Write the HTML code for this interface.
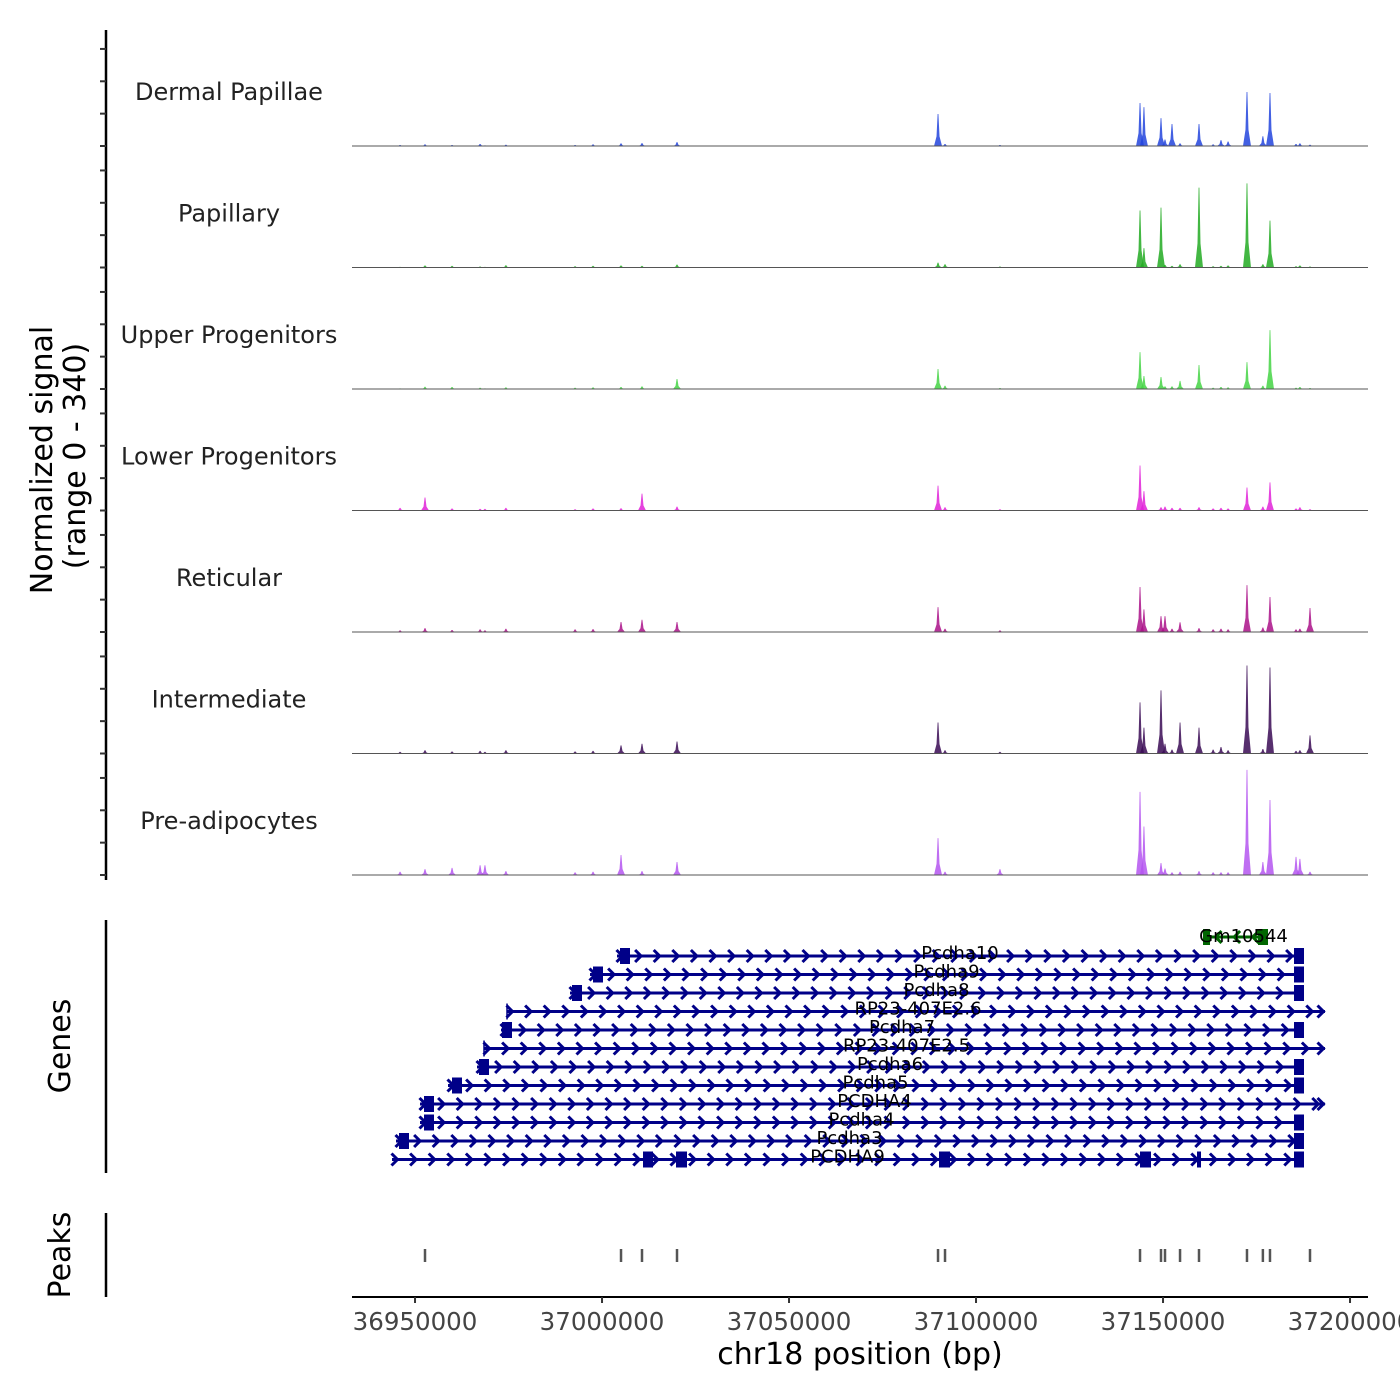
<!DOCTYPE html>
<html><head><meta charset="utf-8"><style>
html,body{margin:0;padding:0;background:#fff;}
svg{display:block;font-family:"DejaVu Sans","Liberation Sans",sans-serif;}
</style></head><body>
<svg id="chart" width="1400" height="1400" viewBox="0 0 1400 1400" xmlns="http://www.w3.org/2000/svg">
<g id="left-axis"></g>
<g id="tracks"></g>
<g id="genes"></g>
<g id="peaks"></g>
<g id="xaxis"></g>
<text transform="translate(52,460) rotate(-90)" text-anchor="middle" font-size="30" fill="#000">Normalized signal</text>
<text transform="translate(85,456) rotate(-90)" text-anchor="middle" font-size="30" fill="#000">(range 0 - 340)</text>
<text transform="translate(70,1046) rotate(-90)" text-anchor="middle" font-size="30" fill="#000">Genes</text>
<text transform="translate(70,1255) rotate(-90)" text-anchor="middle" font-size="30" fill="#000">Peaks</text>
<text x="860" y="1364" text-anchor="middle" font-size="30" fill="#000">chr18 position (bp)</text>
</svg>
<script>
const trackNames = ["Dermal Papillae","Papillary","Upper Progenitors","Lower Progenitors","Reticular","Intermediate","Pre-adipocytes"];
const trackColors = ["#2244dd","#22aa22","#44d444","#e022d8","#aa1188","#3a0a55","#b455f0"];
const peakPositions = [36946000,36952670,36959900,36967400,36968700,36974300,36992800,36997600,37005080,37010690,37020050,37089840,37091710,37106400,37143850,37144900,37149460,37150530,37152400,37154550,37159620,37163400,37165500,37167400,37172450,37176700,37178600,37185560,37186600,37189300];
const heightsDermal =  [3,5,3,6,2,4,3,5,8,9,12,99,6,3,133,120,86,20,68,8,68,5,18,14,167,30,164,6,8,4];
const heightsPapillary=[2,6,5,3,2,7,4,5,6,5,9,15,10,3,176,60,185,8,5,10,247,4,5,6,260,10,145,4,6,3];
const heightsUpper =   [2,7,6,4,2,5,4,5,6,8,31,62,10,3,114,40,37,8,8,25,74,4,6,5,83,10,182,4,6,3];
const heightsLower =   [8,40,6,5,5,8,4,6,7,52,12,77,10,4,139,60,10,12,8,8,10,6,8,6,71,12,87,6,10,4];
const heightsReticular=[5,12,6,8,5,10,8,9,31,38,31,77,10,5,139,70,49,49,10,30,12,8,10,8,145,14,108,8,10,74];
const heightsIntermed =[5,10,6,8,5,10,6,8,25,30,37,96,10,5,158,80,195,30,12,96,80,12,20,10,272,14,266,8,10,56];
const heightsPreadipo =[10,18,22,30,30,12,8,10,62,12,40,114,10,18,257,150,37,20,8,10,12,8,8,8,325,40,232,56,50,10];
const trackHeights = [heightsDermal,heightsPapillary,heightsUpper,heightsLower,heightsReticular,heightsIntermed,heightsPreadipo];
const yMaxSignal = 340;
const xTicks = [36950000,37000000,37050000,37100000,37150000,37200000];
const geneNames = ["Pcdha10","Pcdha9","Pcdha8","RP23-407E2.6","Pcdha7","RP23-407E2.5","Pcdha6","Pcdha5","PCDHA4","Pcdha4","Pcdha3","PCDHA9"];
const geneStarts = [37004006,36996787,36991440,36974594,36972990,36968445,36966573,36958818,36951332,36951332,36944915,36943845];
const geneEnds = [37186360,37186360,37186360,37193312,37186360,37193312,37186360,37186360,37193312,37186360,37186360,37186360];
const geneFirstExon = [37006145,36998926,36993311,null,36974594,null,36968445,36961225,36953738,36953738,36947054,37012297];
const geneLastExon = [true,true,true,false,true,false,true,true,false,true,true,true];
const gmGene = {name:"Gm10544", start:37160693, end:37178073};
const peakCalls = [36952670,37005080,37010690,37020050,37089840,37091710,37143850,37149460,37150530,37154550,37159620,37172450,37176700,37178600,37189300];

const NS="http://www.w3.org/2000/svg";
const X0=352, X1=1368, BP0=36933150, PXPERBP=0.00374;
function xs(bp){return X0+(bp-BP0)*PXPERBP;}
function mk(tag,attrs,parent){const e=document.createElementNS(NS,tag);for(const k in attrs)e.setAttribute(k,attrs[k]);parent.appendChild(e);return e;}
const baselines=[146,267.5,389,510.5,632,753.5,875];
const TRACK_H=110;
function ys(v,i){return baselines[i]-v/yMaxSignal*TRACK_H;}

const la=document.getElementById('left-axis');
mk('line',{x1:106,y1:30,x2:106,y2:880,stroke:'#000','stroke-width':2.5},la);
for(let i=0;i<7;i++){for(const v of [0,100,200,300]){const y=ys(v,i);
const t=mk('line',{x1:100,y1:y,x2:106,y2:y,stroke:'#333','stroke-width':2},la);

}}
mk('line',{x1:106,y1:920,x2:106,y2:1173,stroke:'#000','stroke-width':2.5},la);
mk('line',{x1:106,y1:1213,x2:106,y2:1297,stroke:'#000','stroke-width':2.5},la);

const tg=document.getElementById('tracks');
trackNames.forEach((nm,i)=>{
  const g=mk('g',{},tg);
  
  
  const lab=mk('text',{x:229,y:baselines[i]-46,'text-anchor':'middle','font-size':24,fill:'#222'},g);
  lab.textContent=nm;
  
  
  const b=baselines[i];
  trackHeights[i].forEach((h,j)=>{
    const x=xs(peakPositions[j]), top=ys(h,i);
    const d=`M${x-4},${b} L${x-1.5},${b-(b-top)*0.3} L${x-0.4},${top} L${x+0.4},${top} L${x+1.5},${b-(b-top)*0.3} L${x+4},${b} Z`;
    const p=mk('path',{d:d,fill:trackColors[i],opacity:0.85},g);
    
    
  });
  mk('line',{x1:X0,y1:b,x2:X1,y2:b,stroke:'#555','stroke-width':1},g);
});

const gg=document.getElementById('genes');
const rowY=[956,974.5,993,1011.5,1030,1048.5,1067,1085.5,1104,1122.5,1141,1159.5];
const navy="#000088";
function chevron(x,y,dir,col,parent){
  const d=dir>0?`M${x-4.5},${y-6} L${x+1.5},${y} L${x-4.5},${y+6}`:`M${x+4.5},${y-6} L${x-1.5},${y} L${x+4.5},${y+6}`;
  mk('path',{d:d,stroke:col,'stroke-width':3,fill:'none'},parent);
}
geneNames.forEach((nm,i)=>{
  const g=mk('g',{},gg);
  
  
  const y=rowY[i], xa=xs(geneStarts[i]), xb=xs(geneEnds[i]);
  mk('line',{x1:xa,y1:y,x2:xb,y2:y,stroke:navy,'stroke-width':3},g);
  for(let x=xa+4;x<xb-2;x+=18.6) chevron(x,y,1,navy,g);
  if(geneFirstExon[i]!==null){const ex=xs(geneFirstExon[i]);mk('rect',{x:ex-5,y:y-8,width:10,height:16,fill:navy},g);}
  else mk('line',{x1:xa,y1:y-8,x2:xa,y2:y+8,stroke:navy,'stroke-width':1.5},g);
  if(geneLastExon[i]) mk('rect',{x:xs(37186360)-5,y:y-8,width:10,height:16,fill:navy},g);
  else chevron(xb-3,y,1,navy,g);
  const lab=mk('text',{x:(xa+xb)/2+2,y:y+3,'text-anchor':'middle','font-size':18,fill:'#000'},g);
  lab.textContent=nm;
});
[37021120,37091441,37145185].forEach(e=>{mk('rect',{x:xs(e)-5,y:1159.5-8,width:11,height:16,fill:navy},gg);});
mk('rect',{x:xs(37159623)-2,y:1159.5-8,width:4,height:16,fill:navy},gg);
{const g=mk('g',{},gg);


const xa=xs(gmGene.start), xb=xs(gmGene.end), y=937;
mk('line',{x1:xa,y1:y,x2:xb,y2:y,stroke:'#006600','stroke-width':3},g);
mk('rect',{x:xa,y:y-8,width:7,height:16,fill:'#006600'},g);
mk('rect',{x:xb-10,y:y-8,width:10,height:16,fill:'#006600'},g);
for(let x=xa+14;x<xb-10;x+=18.6) chevron(x,y,-1,'#006600',g);
const lab=mk('text',{x:(xa+xb)/2+8,y:y+5,'text-anchor':'middle','font-size':18,fill:'#000'},g);
lab.textContent=gmGene.name;}

const pg=document.getElementById('peaks');
peakCalls.forEach(p=>{
  const l=mk('line',{x1:xs(p),y1:1249,x2:xs(p),y2:1262,stroke:'#555','stroke-width':2.5},pg);
  
  
});

const xg=document.getElementById('xaxis');
mk('line',{x1:X0,y1:1297,x2:X1,y2:1297,stroke:'#000','stroke-width':2},xg);
xTicks.forEach(t=>{
  const x=xs(t);
  mk('line',{x1:x,y1:1297,x2:x,y2:1303,stroke:'#333','stroke-width':2},xg);
  const lab=mk('text',{x:x,y:1330,'text-anchor':'middle','font-size':24.5,fill:'#444'},xg);
  lab.textContent=String(t);
  
  
});
</script>
</body></html>
